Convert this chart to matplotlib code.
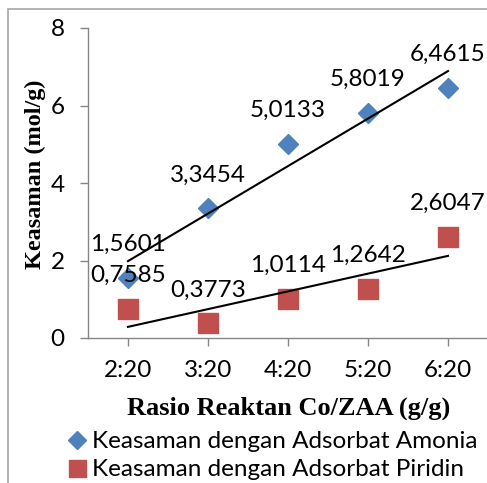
import matplotlib
matplotlib.use("Agg")
import matplotlib.pyplot as plt
import numpy as np
from matplotlib.patches import Rectangle

categories = ["2:20", "3:20", "4:20", "5:20", "6:20"]
amonia = [1.5601, 3.3454, 5.0133, 5.8019, 6.4615]
piridin = [0.7585, 0.3773, 1.0114, 1.2642, 2.6047]
amonia_labels = ["1,5601", "3,3454", "5,0133", "5,8019", "6,4615"]
piridin_labels = ["0,7585", "0,3773", "1,0114", "1,2642", "2,6047"]
yticks = [0, 2, 4, 6, 8]

W, H = 487, 483
fig = plt.figure(figsize=(W / 100, H / 100), dpi=100)
fig.patch.set_facecolor("white")

def fx(px):
    return px / W

def fy(py):
    return 1 - py / H

# outer border (chart area)
fig.patches.append(Rectangle((fx(8), fy(600)), fx(700), fy(9) - fy(600),
                             transform=fig.transFigure, fill=False,
                             edgecolor="#A6A6A6", linewidth=1.2, zorder=0))

ax = fig.add_axes([fx(88), fy(338), fx(488) - fx(88), fy(28) - fy(338)])
ax.set_facecolor("none")

x = np.arange(len(categories))
blue = "#4F81BD"
red = "#C0504D"
tick_font = "Lato"
fs = 17.5

ax.plot(x, amonia, linestyle="none", marker="D", markersize=10.3,
        color=blue, label="Keasaman dengan Adsorbat Amonia", zorder=3)
ax.plot(x, piridin, linestyle="none", marker="s", markersize=14.4,
        color=red, label="Keasaman dengan Adsorbat Piridin", zorder=3)

# linear trendlines
for vals in (amonia, piridin):
    k, b = np.polyfit(x, vals, 1)
    ax.plot(x[[0, -1]], k * x[[0, -1]] + b, color="black", linewidth=1.5, zorder=4)

for xi, v, lab in zip(x, amonia, amonia_labels):
    ax.annotate(lab, (xi, v), xytext=(0, 27), textcoords="offset pixels",
                ha="center", va="baseline", fontsize=fs, family=tick_font, zorder=5)
for xi, v, lab in zip(x, piridin, piridin_labels):
    ax.annotate(lab, (xi, v), xytext=(0, 27), textcoords="offset pixels",
                ha="center", va="baseline", fontsize=fs, family=tick_font, zorder=5)

ax.set_xlim(-0.5, 4.5)
ax.set_ylim(0, 8)
ax.set_xticks(x)
ax.set_xticklabels(categories)
ax.set_yticks(yticks)
for s in ("top", "right"):
    ax.spines[s].set_visible(False)
for s in ("left", "bottom"):
    ax.spines[s].set_color("#868686")
    ax.spines[s].set_linewidth(1.0)
ax.tick_params(axis="both", colors="#868686", labelcolor="black",
               labelsize=fs, direction="out", length=5.8, width=1.0)
ax.tick_params(axis="x", pad=10)
ax.tick_params(axis="y", pad=11)
for lab in ax.get_xticklabels() + ax.get_yticklabels():
    lab.set_family(tick_font)

fig.text(fx(35), fy(174), "Keasaman (mol/g)", rotation=90, ha="center", va="center",
         fontsize=17.5, fontweight="bold", family="Liberation Serif")
fig.text(fx(289), fy(408), "Rasio Reaktan Co/ZAA (g/g)", ha="center", va="center",
         fontsize=19, fontweight="bold", family="Liberation Serif")

handles, labels = ax.get_legend_handles_labels()
leg = fig.legend(handles, labels, loc="upper left", bbox_to_anchor=(fx(66), fy(431)),
                 frameon=False, prop={"family": tick_font, "size": fs},
                 handlelength=0.9, handletextpad=0.15, labelspacing=0.3,
                 borderaxespad=0, borderpad=0, markerscale=0.85)

fig.savefig("out.png", dpi=100)
